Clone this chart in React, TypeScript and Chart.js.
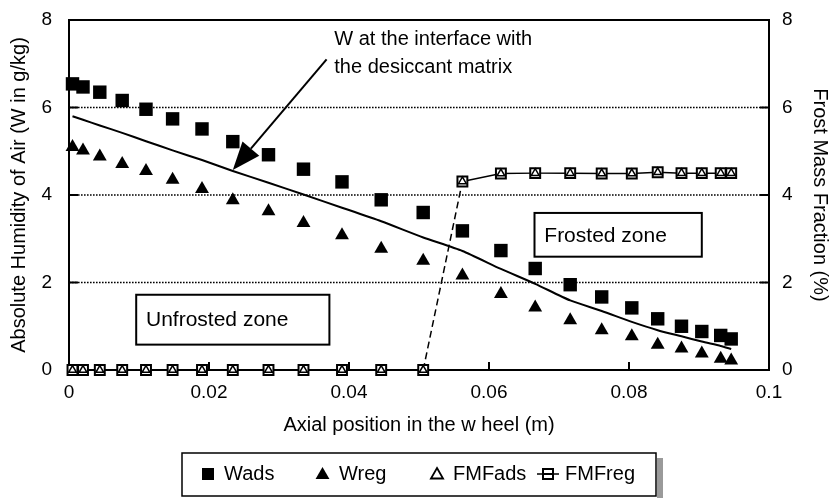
import { useEffect, useRef } from "react";
import { Chart, registerables } from "chart.js";

Chart.register(...registerables);

// Axial positions along the wheel (m)
const xPos = [
  0.0005, 0.002, 0.0044, 0.0076, 0.011, 0.0148, 0.019, 0.0234, 0.0285, 0.0335,
  0.039, 0.0446, 0.0506, 0.0562, 0.0617, 0.0666, 0.0716, 0.0761, 0.0804, 0.0841,
  0.0875, 0.0904, 0.0931, 0.0946,
];

// Absolute humidity of air, adsorption side (g/kg)
const wAds = [
  6.54, 6.47, 6.35, 6.16, 5.96, 5.74, 5.51, 5.22, 4.92, 4.59, 4.3, 3.89, 3.6,
  3.18, 2.73, 2.32, 1.95, 1.67, 1.42, 1.17, 1.0, 0.88, 0.79, 0.71,
];

// Absolute humidity of air, regeneration side (g/kg)
const wReg = [
  5.1, 5.02, 4.88, 4.71, 4.55, 4.35, 4.14, 3.88, 3.63, 3.36, 3.08, 2.77, 2.5,
  2.16, 1.74, 1.43, 1.14, 0.91, 0.77, 0.58, 0.49, 0.38, 0.26, 0.22,
];

// Humidity at the interface with the desiccant matrix (g/kg)
const wInterface = [
  5.8, 5.72, 5.59, 5.42, 5.23, 5.02, 4.8, 4.55, 4.28, 4.01, 3.71, 3.4, 3.03,
  2.72, 2.31, 1.97, 1.59, 1.35, 1.1, 0.91, 0.77, 0.65, 0.55, 0.48,
];

// Frost mass fraction (%)
const fmfAds = [
  0, 0, 0, 0, 0, 0, 0, 0, 0, 0, 0, 0, 0, 4.31, 4.49, 4.5, 4.5, 4.49, 4.49,
  4.52, 4.5, 4.5, 4.5, 4.5,
];
const fmfReg = [
  0, 0, 0, 0, 0, 0, 0, 0, 0, 0, 0, 0, 0, 4.31, 4.49, 4.5, 4.5, 4.49, 4.49,
  4.52, 4.5, 4.5, 4.5, 4.5,
];

const xTickLabels = ["0", "0.02", "0.04", "0.06", "0.08", "0.1"];
const yTickLabels = ["0", "2", "4", "6", "8"];
const legendLabels = ["Wads", "Wreg", "FMFads", "FMFreg"];

const FONT = "'Liberation Sans', Arial, Helvetica, sans-serif";

const toPoints = (ys: number[]) => ys.map((y, i) => ({ x: xPos[i], y }));

function strokeLine(ctx: CanvasRenderingContext2D, x1: number, y1: number, x2: number, y2: number) {
  ctx.beginPath();
  ctx.moveTo(x1, y1);
  ctx.lineTo(x2, y2);
  ctx.stroke();
}

function triPath(ctx: CanvasRenderingContext2D, cx: number, cy: number, r: number) {
  ctx.beginPath();
  ctx.moveTo(cx, cy - r);
  ctx.lineTo(cx + r * 0.866, cy + r * 0.5);
  ctx.lineTo(cx - r * 0.866, cy + r * 0.5);
  ctx.closePath();
}

// Plot frame, dotted grid and inward tick marks
const framePlugin = {
  id: "frame",
  beforeDatasetsDraw(chart: any) {
    const { ctx, chartArea: a, scales } = chart;
    const x = scales.x;
    const y = scales.y;
    ctx.save();
    ctx.strokeStyle = "#000";
    ctx.lineWidth = 1.4;
    ctx.setLineDash([1.6, 1.4]);
    [2, 4, 6].forEach((v) => {
      const py = y.getPixelForValue(v);
      strokeLine(ctx, a.left, py, a.right, py);
    });
    ctx.setLineDash([]);
    ctx.lineWidth = 2;
    ctx.strokeRect(a.left, a.top, a.right - a.left, a.bottom - a.top);
    [0.02, 0.04, 0.06, 0.08].forEach((v) => {
      const px = x.getPixelForValue(v);
      strokeLine(ctx, px, a.bottom, px, a.bottom - 8);
    });
    [2, 4, 6].forEach((v) => {
      const py = y.getPixelForValue(v);
      strokeLine(ctx, a.left, py, a.left + 9, py);
      strokeLine(ctx, a.right - 9, py, a.right, py);
    });
    ctx.restore();
  },
};

// Zone labels, interface arrow and boxed legend
const notesPlugin = {
  id: "notes",
  afterDraw(chart: any) {
    const { ctx, scales } = chart;
    const x = scales.x;
    const y = scales.y;
    const X = (v: number) => x.getPixelForValue(v);
    const Y = (v: number) => y.getPixelForValue(v);
    ctx.save();
    ctx.fillStyle = "#000";
    ctx.strokeStyle = "#000";
    ctx.font = `20px ${FONT}`;
    ctx.textBaseline = "middle";
    ctx.textAlign = "left";

    // interface annotation
    ctx.fillText("W at the interface with", X(0.0379), Y(7.56));
    ctx.fillText("the desiccant matrix", X(0.0379), Y(6.92));

    const tx = X(0.0368), ty = Y(7.1);
    const hx = X(0.0234), hy = Y(4.57);
    const ang = Math.atan2(hy - ty, hx - tx);
    const headLen = 28, headHalf = 11;
    const bx = hx - Math.cos(ang) * headLen;
    const by = hy - Math.sin(ang) * headLen;
    ctx.lineWidth = 2;
    strokeLine(ctx, tx, ty, bx, by);
    ctx.beginPath();
    ctx.moveTo(hx, hy);
    ctx.lineTo(bx + Math.sin(ang) * headHalf, by - Math.cos(ang) * headHalf);
    ctx.lineTo(bx - Math.sin(ang) * headHalf, by + Math.cos(ang) * headHalf);
    ctx.closePath();
    ctx.fill();

    // zone boxes
    const zone = (text: string, x0: number, x1: number, y0: number, y1: number, tx0: number) => {
      const l = X(x0), r = X(x1), t = Y(y0), b = Y(y1);
      ctx.fillStyle = "#fff";
      ctx.fillRect(l, t, r - l, b - t);
      ctx.lineWidth = 2;
      ctx.strokeRect(l, t, r - l, b - t);
      ctx.fillStyle = "#000";
      ctx.font = `21px ${FONT}`;
      ctx.fillText(text, X(tx0), (t + b) / 2 + 1);
    };
    zone("Frosted zone", 0.0665, 0.0904, 3.59, 2.59, 0.0679);
    zone("Unfrosted zone", 0.0096, 0.0372, 1.72, 0.58, 0.011);

    // legend
    const lx = 182, ly = 453, lw = 474, lh = 43;
    ctx.fillStyle = "#9a9a9a";
    ctx.fillRect(lx + lw + 1, ly + 5, 6, lh);
    ctx.fillStyle = "#fff";
    ctx.fillRect(lx, ly, lw, lh);
    ctx.lineWidth = 1.5;
    ctx.strokeRect(lx, ly, lw, lh);
    const cy = ly + 21;
    ctx.fillStyle = "#000";
    ctx.fillRect(202, cy - 6, 12, 12);
    triPath(ctx, 322.5, cy + 1, 8);
    ctx.fill();
    ctx.fillStyle = "#fff";
    ctx.lineWidth = 1.8;
    triPath(ctx, 437, cy + 1, 7);
    ctx.fill();
    ctx.stroke();
    ctx.lineWidth = 1.5;
    strokeLine(ctx, 537, cy, 559, cy);
    ctx.fillRect(543, cy - 5, 10, 10);
    ctx.lineWidth = 2;
    ctx.strokeRect(543, cy - 5, 10, 10);
    strokeLine(ctx, 543, cy, 553, cy);
    ctx.fillStyle = "#000";
    ctx.font = `20px ${FONT}`;
    ctx.fillText(legendLabels[0], 224, cy);
    ctx.fillText(legendLabels[1], 339, cy);
    ctx.fillText(legendLabels[2], 453, cy);
    ctx.fillText(legendLabels[3], 565, cy);
    ctx.restore();
  },
};

export default function App() {
  const canvasRef = useRef<HTMLCanvasElement | null>(null);

  useEffect(() => {
    const canvas = canvasRef.current;
    if (!canvas) return;
    const tickFont = { family: FONT, size: 19 };
    const titleFont = { family: FONT, size: 20 };

    const chart = new Chart(canvas, {
      type: "line",
      data: {
        datasets: [
          {
            label: legendLabels[2],
            data: toPoints(fmfAds),
            yAxisID: "y1",
            showLine: false,
            pointStyle: "triangle",
            pointRadius: 4.5,
            pointBackgroundColor: "#fff",
            pointBorderColor: "#000",
            pointBorderWidth: 1.5,
            clip: false,
          },
          {
            label: legendLabels[3],
            data: toPoints(fmfReg),
            yAxisID: "y1",
            borderColor: "#000",
            borderWidth: 1.5,
            pointStyle: "rect",
            pointRadius: 7,
            pointBackgroundColor: "#fff",
            pointBorderColor: "#000",
            pointBorderWidth: 2,
            clip: false,
            segment: {
              borderDash: (c: any) =>
                Math.abs(c.p1.parsed.y - c.p0.parsed.y) > 1 ? [7, 4] : undefined,
            },
          },
          {
            label: legendLabels[0],
            data: toPoints(wAds),
            yAxisID: "y",
            showLine: false,
            pointStyle: "rect",
            pointRadius: 9.5,
            pointBackgroundColor: "#000",
            pointBorderColor: "#000",
            pointBorderWidth: 0,
            clip: false,
          },
          {
            label: legendLabels[1],
            data: toPoints(wReg),
            yAxisID: "y",
            showLine: false,
            pointStyle: "triangle",
            pointRadius: 8,
            pointBackgroundColor: "#000",
            pointBorderColor: "#000",
            pointBorderWidth: 0,
            clip: false,
          },
          {
            label: "W interface",
            data: toPoints(wInterface),
            yAxisID: "y",
            borderColor: "#000",
            borderWidth: 2,
            pointRadius: 0,
            tension: 0.2,
            clip: false,
          },
        ],
      },
      options: {
        responsive: false,
        animation: false,
        events: [],
        layout: { padding: { top: 20, left: 0, right: 0, bottom: 0 } },
        plugins: {
          legend: { display: false },
          tooltip: { enabled: false },
        },
        scales: {
          x: {
            type: "linear",
            min: 0,
            max: 0.1,
            grid: { display: false, drawTicks: false },
            border: { display: false },
            ticks: {
              stepSize: 0.02,
              color: "#000",
              font: tickFont,
              padding: 11,
              maxRotation: 0,
              callback: (_v: any, i: number) => xTickLabels[i],
            },
            title: {
              display: true,
              text: "Axial position in the w heel (m)",
              color: "#000",
              font: titleFont,
              padding: { top: 0, bottom: 61 },
            },
            afterFit: (s: any) => {
              s.height = 128;
              s.paddingLeft = 0;
              s.paddingRight = 0;
            },
          },
          y: {
            position: "left",
            min: 0,
            max: 8,
            grid: { display: false, drawTicks: false },
            border: { display: false },
            ticks: {
              stepSize: 2,
              color: "#000",
              font: tickFont,
              padding: 17,
              callback: (_v: any, i: number) => yTickLabels[i],
            },
            title: {
              display: true,
              text: "Absolute Humidity of Air (W in g/kg)",
              color: "#000",
              font: titleFont,
              padding: { top: 7, bottom: 0 },
            },
            afterFit: (s: any) => {
              s.width = 69;
              s.paddingTop = 0;
              s.paddingBottom = 0;
            },
          },
          y1: {
            position: "right",
            min: 0,
            max: 8,
            grid: { display: false, drawTicks: false },
            border: { display: false },
            ticks: {
              stepSize: 2,
              color: "#000",
              font: tickFont,
              padding: 13,
              callback: (_v: any, i: number) => yTickLabels[i],
            },
            title: {
              display: true,
              text: "Frost Mass Fraction (%)",
              color: "#000",
              font: titleFont,
              padding: { top: 1, bottom: 0 },
            },
            afterFit: (s: any) => {
              s.width = 64;
              s.paddingTop = 0;
              s.paddingBottom = 0;
            },
          },
        },
      } as any,
      plugins: [framePlugin, notesPlugin],
    });

    return () => chart.destroy();
  }, []);

  return (
    <div style={{ position: "fixed", left: 0, top: 0, width: 833, height: 498, background: "#fff" }}>
      <canvas ref={canvasRef} width={833} height={498} style={{ display: "block" }} />
    </div>
  );
}
